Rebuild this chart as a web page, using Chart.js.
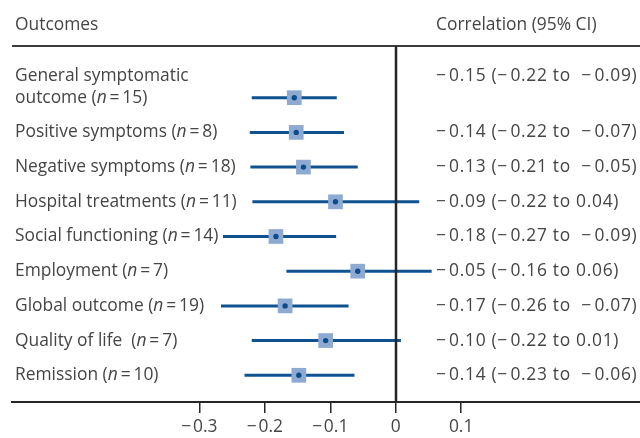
<!DOCTYPE html>
<html>
<head>
<meta charset="utf-8">
<script src="https://cdn.jsdelivr.net/npm/chart.js@4/dist/chart.umd.min.js"></script>
<style>
  html, body { margin: 0; padding: 0; background: #fff; overflow: hidden; }
  #forest { display: block; }
</style>
</head>
<body>
<canvas id="forest" width="640" height="438"></canvas>
<script>
// outcomes, top to bottom
const outcomes = [
  'General symptomatic\noutcome',
  'Positive symptoms',
  'Negative symptoms',
  'Hospital treatments',
  'Social functioning',
  'Employment',
  'Global outcome',
  'Quality of life ',
  'Remission',
];
const studies = [15, 8, 18, 11, 14, 7, 19, 7, 10];

// plotted positions
const estimates = [-0.155, -0.152, -0.141, -0.092, -0.183, -0.058, -0.169, -0.107, -0.148];
const lower = [-0.220, -0.223, -0.222, -0.219, -0.264, -0.167, -0.267, -0.220, -0.231];
const upper = [-0.090, -0.079, -0.058, 0.036, -0.091, 0.055, -0.072, 0.008, -0.063];

// printed column on the right
const M = '\u2212\u200a';
const ciLabels = [
  M + '0.15 (' + M + '0.22 to  ' + M + '0.09)',
  M + '0.14 (' + M + '0.22 to  ' + M + '0.07)',
  M + '0.13 (' + M + '0.21 to  ' + M + '0.05)',
  M + '0.09 (' + M + '0.22 to 0.04)',
  M + '0.18 (' + M + '0.27 to  ' + M + '0.09)',
  M + '0.05 (' + M + '0.16 to 0.06)',
  M + '0.17 (' + M + '0.26 to  ' + M + '0.07)',
  M + '0.10 (' + M + '0.22 to 0.01)',
  M + '0.14 (' + M + '0.23 to  ' + M + '0.06)',
];

const xTicks = [-0.3, -0.2, -0.1, 0, 0.1];

const FONT = '"Open Sans", "DejaVu Sans", sans-serif';
const SIZE = 17.4;
const TEXT = '#454545';
const INK = '#262626';

const fmtTick = (v) => (v < 0 ? M + Math.abs(v) : String(v));

const datasets = [];
outcomes.forEach((name, i) => {
  datasets.push({
    type: 'line',
    data: [{ x: lower[i], y: i + 1 }, { x: upper[i], y: i + 1 }],
    borderColor: '#0f5290',
    borderWidth: 3,
    borderCapStyle: 'butt',
    pointRadius: 0,
    order: 2,
  });
});
datasets.push({
  type: 'scatter',
  data: estimates.map((v, i) => ({ x: v, y: i + 1 })),
  pointStyle: 'rect',
  pointRadius: 10.4,
  backgroundColor: '#8eaad3',
  borderWidth: 0,
  order: 1,
});
datasets.push({
  type: 'scatter',
  data: estimates.map((v, i) => ({ x: v, y: i + 1 })),
  pointStyle: 'circle',
  pointRadius: 2.7,
  backgroundColor: '#0b4c88',
  borderWidth: 0,
  order: 0,
});

// header line + line of no effect
const frame = {
  id: 'frame',
  afterDatasetsDraw(chart) {
    const { ctx, chartArea, scales: { x } } = chart;
    ctx.save();
    ctx.strokeStyle = '#3c3c3c';
    ctx.lineWidth = 2;
    ctx.beginPath();
    ctx.moveTo(chartArea.left, chartArea.top);
    ctx.lineTo(chartArea.right, chartArea.top);
    ctx.stroke();
    const zx = Math.round(x.getPixelForValue(0));
    ctx.strokeStyle = INK;
    ctx.lineWidth = 2.5;
    ctx.beginPath();
    ctx.moveTo(zx, chartArea.top);
    ctx.lineTo(zx, chartArea.bottom);
    ctx.stroke();
    ctx.restore();
  },
};

// row labels and CI column
const labels = {
  id: 'labels',
  afterDraw(chart) {
    const { ctx, scales: { y } } = chart;
    const regular = `${SIZE}px ${FONT}`;
    const italic = `italic ${SIZE}px ${FONT}`;
    ctx.save();
    ctx.fillStyle = TEXT;
    ctx.textBaseline = 'middle';
    ctx.textAlign = 'left';
    ctx.font = regular;
    ctx.fillText('Outcomes', 15, 25);
    ctx.fillText('Correlation (95% CI)', 436, 25);

    outcomes.forEach((name, i) => {
      const yy = y.getPixelForValue(i + 1);
      const lines = name.split('\n');
      const top = yy - 21.5 * (lines.length - 1);
      ctx.letterSpacing = '0px';
      for (let k = 0; k < lines.length - 1; k++) {
        ctx.font = regular;
        ctx.fillText(lines[k], 15, top + 21.5 * k);
      }
      const last = lines[lines.length - 1] + ' (';
      let px = 15;
      ctx.font = regular;
      ctx.fillText(last, px, yy);
      px += ctx.measureText(last).width;
      ctx.font = italic;
      ctx.fillText('n', px, yy);
      px += ctx.measureText('n').width;
      ctx.font = regular;
      ctx.fillText('\u2009=\u2009' + studies[i] + ')', px, yy);

      ctx.letterSpacing = '0.7px';
      ctx.fillText(ciLabels[i], 436, top);
    });
    ctx.restore();
  },
};

new Chart(document.getElementById('forest'), {
  type: 'scatter',
  data: { datasets },
  options: {
    responsive: false,
    animation: false,
    devicePixelRatio: 1,
    layout: { autoPadding: false, padding: { top: 46, left: 12, right: 0, bottom: 0 } },
    plugins: {
      legend: { display: false },
      tooltip: { enabled: false },
    },
    scales: {
      x: {
        type: 'linear',
        min: -0.5864,
        max: 0.3734,
        afterBuildTicks: (scale) => {
          scale.ticks = xTicks.map((v) => ({ value: v }));
        },
        afterFit: (scale) => {
          scale.height = 36;
        },
        border: { display: true, color: INK, width: 2 },
        grid: {
          drawOnChartArea: false,
          drawTicks: true,
          tickLength: 11,
          color: INK,
          lineWidth: 1.5,
        },
        ticks: {
          autoSkip: false,
          maxRotation: 0,
          padding: 4,
          color: TEXT,
          font: { family: FONT, size: SIZE },
          callback: (v) => fmtTick(v),
        },
      },
      y: {
        type: 'linear',
        display: false,
        reverse: true,
        min: -0.49,
        max: 9.77,
      },
    },
  },
  plugins: [frame, labels],
});
</script>
</body>
</html>
